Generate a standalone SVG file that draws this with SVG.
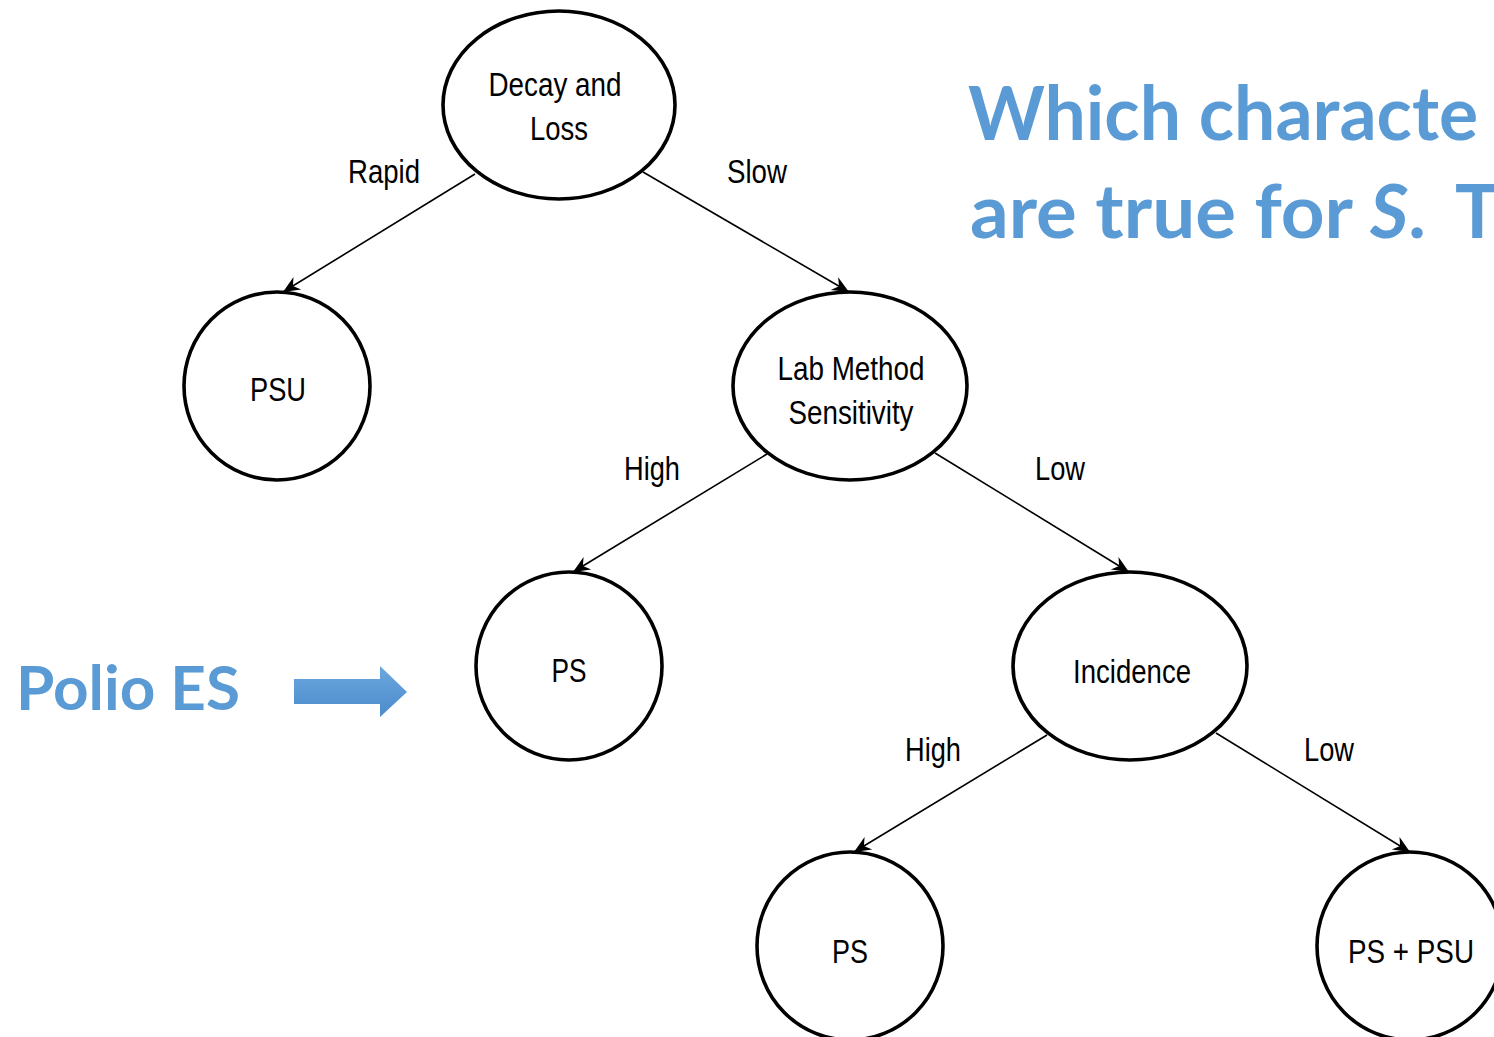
<svg xmlns="http://www.w3.org/2000/svg" width="1494" height="1037" viewBox="0 0 1494 1037">
<style>
.node{fill:#fff;stroke:#000;stroke-width:3.6}
.edge{fill:none;stroke:#000;stroke-width:1.6;marker-end:url(#ah)}
.t{font-family:"Liberation Sans",Arial,sans-serif;font-size:33px;fill:#000;text-anchor:middle}
.big{font-family:Lato,"Open Sans","Liberation Sans",sans-serif;font-weight:bold;fill:#5B9BD5}
</style>
<defs>
<marker id="ah" markerUnits="userSpaceOnUse" markerWidth="20" markerHeight="20" viewBox="-17 -8 19 16" refX="0" refY="0" orient="auto">
<path d="M0,0 L-16,-7 L-11,0 L-16,7 Z" fill="#000"/>
</marker>
<linearGradient id="bg" x1="0" y1="0" x2="0" y2="1">
<stop offset="0" stop-color="#6CA8DF"/>
<stop offset="1" stop-color="#4A8BCB"/>
</linearGradient>
</defs>
<g id="connectors">
<line class="edge" x1="475" y1="174" x2="283" y2="292"/>
<line class="edge" x1="643" y1="172" x2="849" y2="292"/>
<line class="edge" x1="767" y1="454" x2="573" y2="572"/>
<line class="edge" x1="935" y1="453" x2="1129" y2="572"/>
<line class="edge" x1="1047" y1="735" x2="854" y2="852"/>
<line class="edge" x1="1216" y1="733" x2="1410" y2="852"/>
<text class="t" x="384" y="183" textLength="72" lengthAdjust="spacingAndGlyphs">Rapid</text>
<text class="t" x="757" y="183" textLength="60" lengthAdjust="spacingAndGlyphs">Slow</text>
<text class="t" x="652" y="480" textLength="56" lengthAdjust="spacingAndGlyphs">High</text>
<text class="t" x="1060" y="480" textLength="50" lengthAdjust="spacingAndGlyphs">Low</text>
<text class="t" x="933" y="761" textLength="56" lengthAdjust="spacingAndGlyphs">High</text>
<text class="t" x="1329" y="761" textLength="50" lengthAdjust="spacingAndGlyphs">Low</text>
</g>
<g id="n-decay">
<ellipse class="node" cx="559" cy="105" rx="116" ry="94"/>
<text class="t" x="555" y="96" textLength="133" lengthAdjust="spacingAndGlyphs">Decay and</text>
<text class="t" x="559" y="140" textLength="58" lengthAdjust="spacingAndGlyphs">Loss</text>
</g>
<g id="n-psu">
<ellipse class="node" cx="277" cy="386" rx="93" ry="94"/>
<text class="t" x="278" y="401" textLength="56" lengthAdjust="spacingAndGlyphs">PSU</text>
</g>
<g id="n-lab">
<ellipse class="node" cx="850" cy="386" rx="117" ry="94"/>
<text class="t" x="851" y="380" textLength="147" lengthAdjust="spacingAndGlyphs">Lab Method</text>
<text class="t" x="851" y="424" textLength="125" lengthAdjust="spacingAndGlyphs">Sensitivity</text>
</g>
<g id="n-ps1">
<ellipse class="node" cx="569" cy="666" rx="93" ry="94"/>
<text class="t" x="569" y="682" textLength="35" lengthAdjust="spacingAndGlyphs">PS</text>
</g>
<g id="n-incidence">
<ellipse class="node" cx="1130" cy="666" rx="117" ry="94"/>
<text class="t" x="1132" y="683" textLength="118" lengthAdjust="spacingAndGlyphs">Incidence</text>
</g>
<g id="n-ps2">
<ellipse class="node" cx="850" cy="946" rx="93" ry="94"/>
<text class="t" x="850" y="963" textLength="36" lengthAdjust="spacingAndGlyphs">PS</text>
</g>
<g id="n-pspsu">
<ellipse class="node" cx="1410" cy="946" rx="93" ry="94"/>
<text class="t" x="1411" y="963" textLength="126" lengthAdjust="spacingAndGlyphs">PS + PSU</text>
</g>
<g id="title">
<text class="big" x="968" y="140" font-size="74" textLength="510" lengthAdjust="spacingAndGlyphs">Which characte</text>
<text class="big" x="970" y="238" font-size="74"><tspan textLength="400" lengthAdjust="spacingAndGlyphs">are true for </tspan><tspan font-style="italic">S</tspan><tspan>.</tspan><tspan x="1455">T</tspan></text>
</g>
<g id="polio">
<text class="big" x="16" y="710" font-size="62" textLength="224" lengthAdjust="spacingAndGlyphs">Polio ES</text>
<path d="M294,679 H380 V666 L407,692 L380,717 V704 H294 Z" fill="url(#bg)"/>
</g>
</svg>
